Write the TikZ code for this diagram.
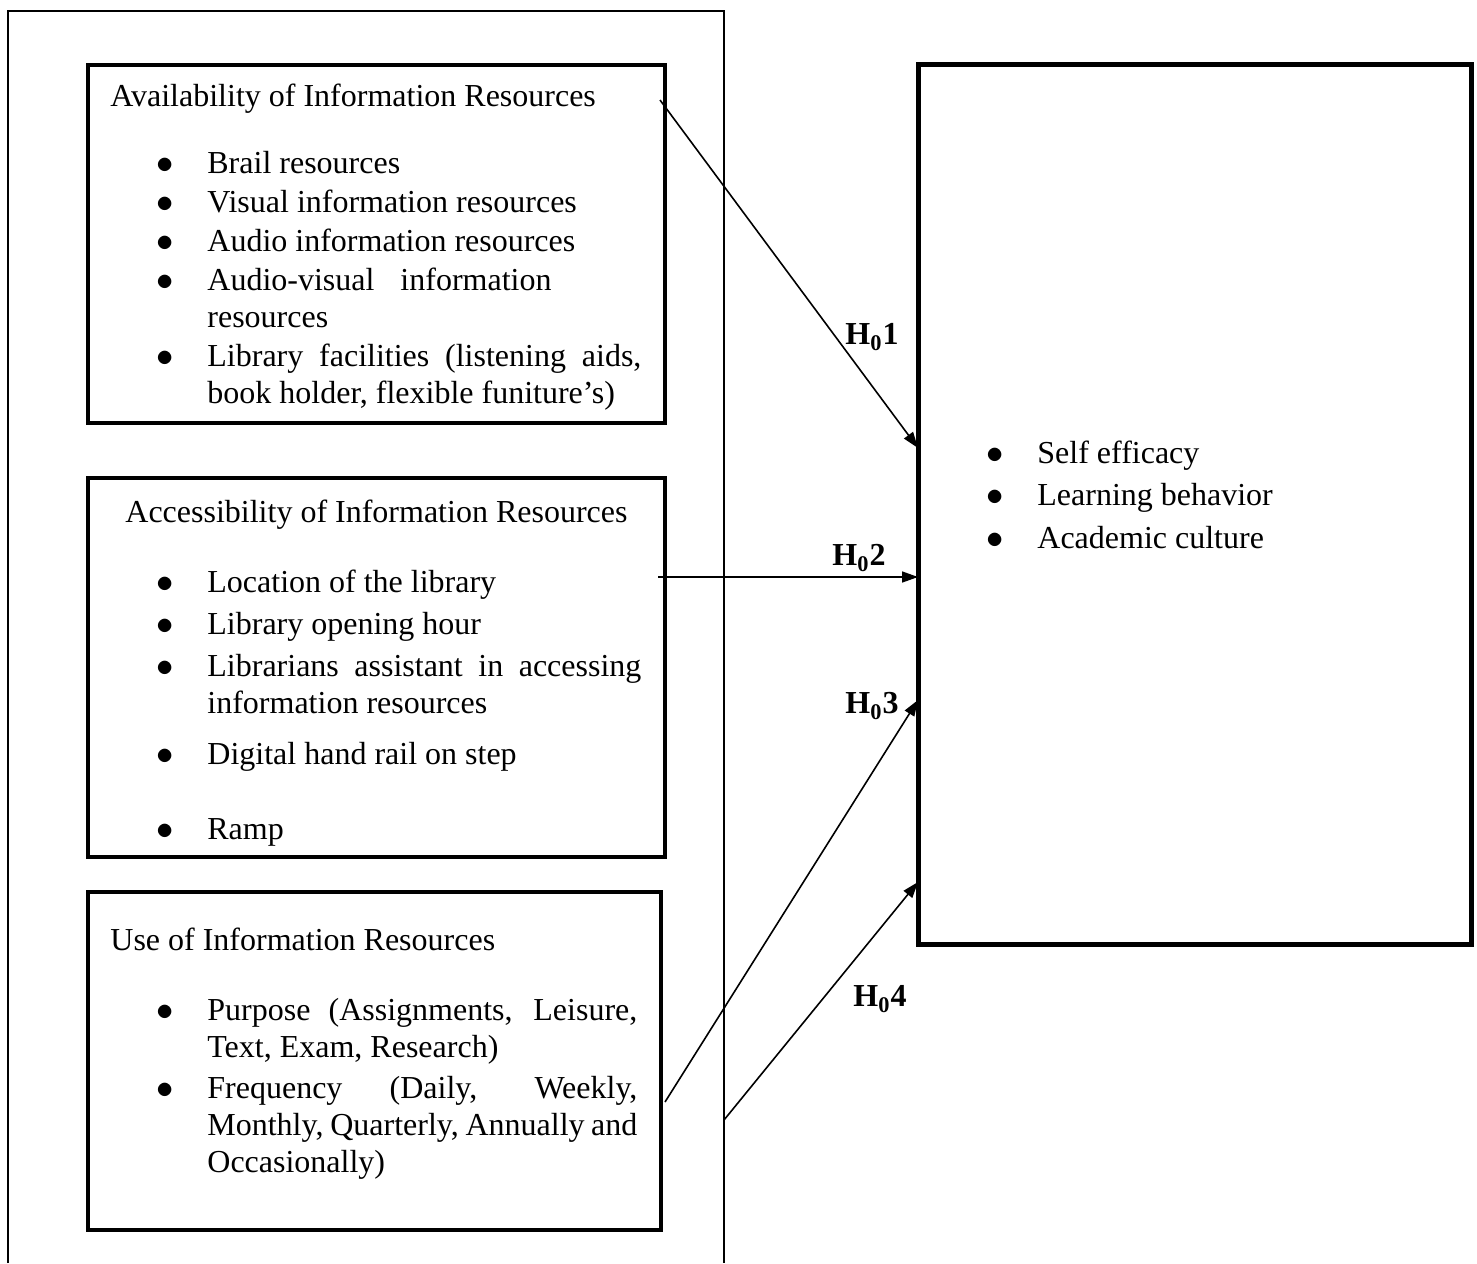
\documentclass[tikz,border=0pt]{standalone}
\usepackage{fontspec}
\setmainfont{Liberation Serif}
\usetikzlibrary{arrows.meta, positioning}
\tikzset{
  body_font/.style = {font=\fontsize{16pt}{18.5pt}\selectfont},
  heavy_line/.style = {line width=2pt},
  thin_line/.style = {line width=0.8pt}
}
\tikzset{
  block/.style = {draw, heavy_line, inner sep=0, outer sep=0, anchor=north west},
  title/.style = {body_font, inner sep=0, anchor=base west},
  entry/.style = {body_font, inner sep=0, anchor=base west, text width=217pt, align=justify},
  short_entry/.style = {body_font, inner sep=0, anchor=base west},
  h_label/.style = {body_font, inner sep=0},
  arrow/.style = {thin_line, -{Triangle[length=8pt, width=5.5pt]}}
}
\newcommand{\bul}{\llap{$\bullet$\hspace{17pt}}}
\newcommand{\hyp}[1]{\textbf{H\textsubscript{0}#1}}

\begin{document}
\begin{tikzpicture}[x=0.5pt, y=-0.5pt]
    \useasboundingbox (0,0) rectangle (1477,1263);

    % Frame round the predictors
    \coordinate (frame_end) at (724,1263);
    \draw[thin_line] (8,1263) |- (724,11) -- (frame_end);

    % Boxes
    \node[block, minimum width=288.5pt, minimum height=179pt] at (88,65) (avail) {};
    \node[block, minimum width=288.5pt, minimum height=189.5pt] at (88,478) (access) {};
    \node[block, minimum width=286.5pt, minimum height=169pt] at (88,892) (use) {};
    \node[block, line width=2.5pt, minimum width=276.5pt, minimum height=439.5pt] at (918,65) (outcome) {};

    % Availability
    \node[title] at (110,107) (avail_t) {Availability of Information Resources};
    \node[entry] at (207,173) (avail_1) {\bul Brail resources};
    \node[entry] at (207,212) (avail_2) {\bul Visual information resources};
    \node[entry] at (207,251) (avail_3) {\bul Audio information resources};
    \node[entry] at (207,290) (avail_4) {\bul Audio-visual\hspace{13pt}information\\ resources};
    \node[entry] at (207,366) (avail_5) {\bul Library facilities (listening aids,\linebreak book holder, flexible funiture's)};

    % Accessibility
    \node[title] at (125,522) (access_t) {Accessibility of Information Resources};
    \node[entry] at (207,592) (access_1) {\bul Location of the library};
    \node[entry] at (207,634) (access_2) {\bul Library opening hour};
    \node[entry] at (207,676) (access_3) {\bul Librarians assistant in accessing\linebreak information resources};
    \node[entry] at (207,764) (access_4) {\bul Digital hand rail on step};
    \node[entry] at (207,839) (access_5) {\bul Ramp};

    % Use
    \node[title] at (110,950) (use_t) {Use of Information Resources};
    \node[entry, text width=215pt] at (207,1020) (use_1) {\bul Purpose (Assignments, Leisure,\linebreak Text, Exam, Research)};
    \node[entry, text width=215pt] at (207,1098) (use_2) {\bul Frequency (Daily, Weekly,\linebreak Monthly, Quarterly, Annually and\linebreak Occasionally)};

    % Outcome
    \node[short_entry] at (1037,463) (out_1) {\bul Self efficacy};
    \node[short_entry] at (1037,505) (out_2) {\bul Learning behavior};
    \node[short_entry] at (1037,548) (out_3) {\bul Academic culture};

    % Hypotheses
    \node[h_label] at (872,337) (h_1) {\hyp{1}};
    \node[h_label] at (859,558) (h_2) {\hyp{2}};
    \node[h_label] at (872,706) (h_3) {\hyp{3}};
    \node[h_label] at (880,999) (h_4) {\hyp{4}};

    % Arrows
    \draw[arrow] ([xshift=-2.5pt, yshift=-17.5pt]avail.north east)--([yshift=-191.5pt]outcome.north west);
    \draw[arrow] ([xshift=-3.5pt, yshift=-49.5pt]access.north east)--([yshift=-256pt]outcome.north west);
    \draw[arrow] ([xshift=2pt, yshift=64pt]use.south east)--([yshift=-317.5pt]outcome.north west);
    \draw[arrow] ([yshift=71.5pt]frame_end)--([yshift=-408.5pt]outcome.north west);
\end{tikzpicture}
\end{document}
